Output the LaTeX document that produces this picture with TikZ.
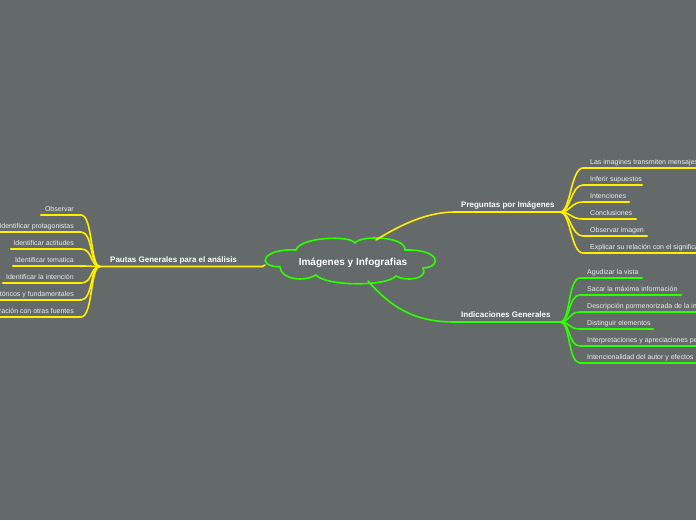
\documentclass[tikz,border=0pt]{standalone}
\usepackage{fontspec}
\setmainfont{Liberation Sans}
\definecolor{bgcol}{RGB}{100,106,106}
\definecolor{ylw}{RGB}{255,238,0}
\definecolor{grn}{RGB}{45,255,0}
\definecolor{lftext}{RGB}{236,236,236}
\newcommand{\lbx}[2]{\makebox[#1pt][r]{#2}}
\newcommand{\rbx}[2]{\makebox[#1pt][l]{#2}}

\begin{document}
\begin{tikzpicture}[x=1pt,y=-1pt,
 lf/.style={inner xsep=7pt,inner ysep=2pt,text=lftext,font=\fontsize{7}{8}\selectfont,text height=5pt,text depth=1.5pt},
 br/.style={inner xsep=6pt,inner ysep=2.5pt,text=white,font=\fontsize{8}{9}\selectfont\bfseries,text height=6pt,text depth=1.5pt},
 ln/.style={line width=1.6pt,line cap=round}]
\fill[bgcol] (0,0) rectangle (696,520);
\clip (0,0) rectangle (696,520);
% central topic (cloud outline drawn by hand)
\draw[grn,line width=1.6pt,fill=bgcol] (296,250) .. controls (300,237) and (350,235) .. (355,243)
 .. controls (360,235) and (406,236) .. (405,250) .. controls (440,249) and (443,267) .. (423,268)
 .. controls (429,279) and (405,282) .. (396,276) .. controls (386,287) and (325,286) .. (316,275)
 .. controls (305,282) and (281,280) .. (280,267) .. controls (254,266) and (264,248) .. cycle;
\node[text=white,font=\fontsize{10}{11}\selectfont\bfseries] (root) at (353,262.5) {Imágenes y Infografias};
\coordinate (cw) at (265,265); \coordinate (cn) at (376,240); \coordinate (cs) at (368,281);
% main branches
\node[br,inner xsep=10pt,anchor=south west] (pautas) at (100,266.5) {\rbx{142}{Pautas Generales para el análisis}};
\node[br,anchor=south west] (preg) at (455,212) {\rbx{93}{Preguntas por Imágenes}};
\node[br,anchor=south west] (ind) at (455,322) {\rbx{93}{Indicaciones Generales}};
\draw[ln,ylw] (pautas.south west) -- (pautas.south east) -- (cw);
\draw[ln,ylw] (cn) .. controls (405,222) and (430,212) .. (preg.south west) -- (preg.south east);
\draw[ln,grn] (cs) .. controls (395,312) and (420,322) .. (ind.south west) -- (ind.south east);
% left leaves
\node[lf,anchor=south east] (l1) at (81,215) {\lbx{26}{Observar}};
\node[lf,anchor=south east] (l2) at (81,232) {\lbx{96}{Identificar protagonistas}};
\node[lf,anchor=south east] (l3) at (81,249) {\lbx{56}{Identificar actitudes}};
\node[lf,anchor=south east] (l4) at (81,266) {\lbx{54}{Identificar tematica}};
\node[lf,anchor=south east] (l5) at (81,283) {\lbx{64}{Identificar la intención}};
\node[lf,anchor=south east] (l6) at (81,300) {\lbx{136}{Aspectos históricos y fundamentales}};
\node[lf,anchor=south east] (l7) at (81,317) {\lbx{136}{Comparación con otras fuentes}};
\foreach \n in {l1,l2,l3,l4,l5,l6,l7}
 \draw[ln,ylw] (\n.south west) -- (\n.south east) .. controls +(12,0) and +(-10,0) .. (pautas.south west);
% upper right leaves
\node[lf,anchor=south west] (p1) at (583,168) {\rbx{136}{Las imagines transmiten mensajes}};
\node[lf,anchor=south west] (p2) at (583,185) {\rbx{45}{Inferir supuestos}};
\node[lf,anchor=south west] (p3) at (583,202) {\rbx{32}{Intenciones}};
\node[lf,anchor=south west] (p4) at (583,219) {\rbx{39}{Conclusiones}};
\node[lf,anchor=south west] (p5) at (583,236) {\rbx{50}{Observar imagen}};
\node[lf,anchor=south west] (p6) at (583,253) {\rbx{136}{Explicar su relación con el significado}};
\foreach \n in {p1,p2,p3,p4,p5,p6}
 \draw[ln,ylw] (preg.south east) .. controls +(10,0) and +(-12,0) .. (\n.south west) -- (\n.south east);
% lower right leaves
\node[lf,anchor=south west] (i1) at (580,278) {\rbx{48}{Agudizar la vista}};
\node[lf,anchor=south west] (i2) at (580,295) {\rbx{87}{Sacar la máxima información}};
\node[lf,anchor=south west] (i3) at (580,312) {\rbx{136}{Descripción pormenorizada de la imagen}};
\node[lf,anchor=south west] (i4) at (580,329) {\rbx{59}{Distinguir elementos}};
\node[lf,anchor=south west] (i5) at (580,346) {\rbx{136}{Interpretaciones y apreciaciones personales}};
\node[lf,anchor=south west] (i6) at (580,363) {\rbx{136}{Intencionalidad del autor y efectos}};
\foreach \n in {i1,i2,i3,i4,i5,i6}
 \draw[ln,grn] (ind.south east) .. controls +(10,0) and +(-12,0) .. (\n.south west) -- (\n.south east);
\end{tikzpicture}
\end{document}
